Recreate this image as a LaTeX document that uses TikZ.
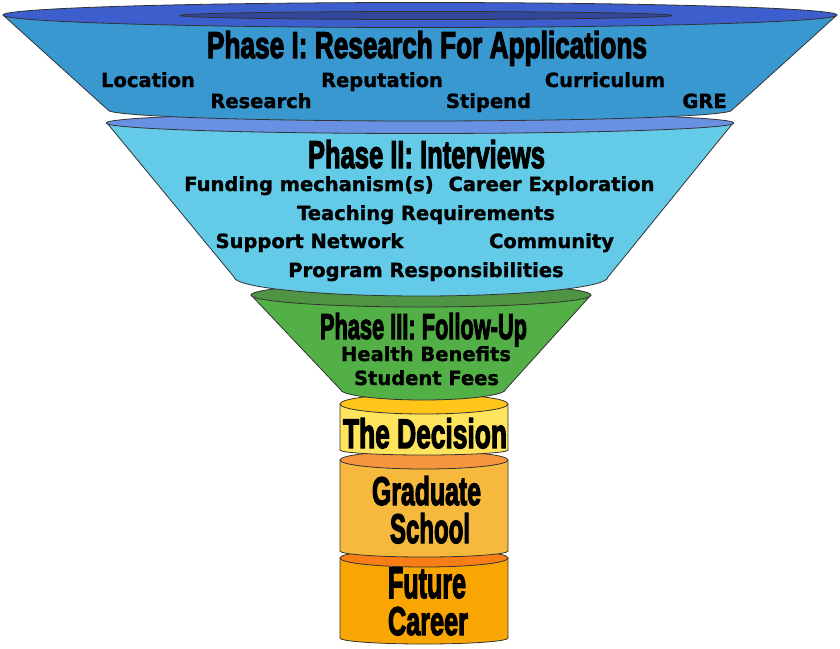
\documentclass[tikz,border=0pt]{standalone}
\usepackage{fontspec}
\usepackage{graphicx}
\newfontfamily\itemfont{DejaVu Sans}[BoldFeatures={FakeBold=1.2}]
\newfontfamily\titlefont{Liberation Sans}[BoldFeatures={FakeBold=3.5}]
\newcommand\tfit[3]{\resizebox{#1pt}{#2pt}{\titlefont\bfseries #3}}
\definecolor{topblue}{HTML}{3C5FCD}
\definecolor{innerblue}{HTML}{33479A}
\definecolor{bluecone}{HTML}{3A98D0}
\definecolor{ringtwo}{HTML}{6891E4}
\definecolor{cyancone}{HTML}{63CBE7}
\definecolor{greentop}{HTML}{4F9443}
\definecolor{greencone}{HTML}{52B046}
\definecolor{goldtop}{HTML}{FFC619}
\definecolor{yellowbody}{HTML}{FFE55E}
\definecolor{orangeone}{HTML}{F7953C}
\definecolor{gradbody}{HTML}{F6B93E}
\definecolor{orangetwo}{HTML}{F77E14}
\definecolor{futurebody}{HTML}{F9A602}
\tikzset{
  shape edge/.style={draw=black!80, line width=0.8pt, line join=round},
  item/.style={font=\itemfont\bfseries\fontsize{19.5}{20}\selectfont, inner sep=0pt, anchor=base},
  ttl/.style={inner sep=0pt, anchor=base}
}
\begin{document}
\begin{tikzpicture}[x=1pt,y=-1pt]
\useasboundingbox (0,0) rectangle (840,648);
% Future Career cylinder
\path[shape edge, fill=futurebody] (340,558) -- (340,638) arc[start angle=180,end angle=0,x radius=84,y radius=6] -- (508,558) -- cycle;
\path[shape edge, fill=orangetwo] (424,558) ellipse[x radius=84,y radius=9];
% Graduate School cylinder
\path[shape edge, fill=gradbody] (340,460) -- (340,551) arc[start angle=180,end angle=0,x radius=84,y radius=6] -- (508,460) -- cycle;
\path[shape edge, fill=orangeone] (424,460) ellipse[x radius=84,y radius=9];
% The Decision cylinder
\path[shape edge, fill=yellowbody] (340,404) -- (340,450) arc[start angle=180,end angle=0,x radius=84,y radius=5] -- (508,404) -- cycle;
\path[shape edge, fill=goldtop] (424,404) ellipse[x radius=84,y radius=10];
% Phase III funnel
\path[shape edge, fill=greencone] (251,295) -- (340,389) arc[start angle=180,end angle=0,x radius=83,y radius=11] -- (591,295) -- cycle;
\path[shape edge, fill=greentop] (421,295) ellipse[x radius=170,y radius=12];
% Phase II funnel
\path[shape edge, fill=cyancone] (107,123) -- (234,277) arc[start angle=180,end angle=0,x radius=187,y radius=19] -- (733,123) -- cycle;
\path[shape edge, fill=ringtwo] (420,123) ellipse[x radius=314,y radius=10.5];
% Phase I funnel
\path[shape edge, fill=bluecone] (3,15) -- (108,110) arc[start angle=180,end angle=0,x radius=312,y radius=11] -- (837,15) -- cycle;
\path[shape edge, fill=topblue] (420,15) ellipse[x radius=417,y radius=12.5];
\path[shape edge, fill=innerblue] (426,15.5) ellipse[x radius=246,y radius=4];
% Titles
\node[ttl] (t1) at (427,58) {\tfit{440}{27}{Phase I: Research For Applications}};
\node[ttl] (t2) at (426.5,168) {\tfit{237}{28}{Phase II: Interviews}};
\node[ttl] (t3) at (423.5,339) {\tfit{207}{26}{Phase III: Follow-Up}};
\node[ttl] (t4) at (425,448) {\tfit{164}{30}{The Decision}};
\node[ttl] (t5) at (426.5,505) {\tfit{109}{29}{Graduate}};
\node[ttl] (t6) at (430,543) {\tfit{80}{30}{School}};
\node[ttl] (t7) at (427,598) {\tfit{78}{30}{Future}};
\node[ttl] (t8) at (428,635) {\tfit{80}{28}{Career}};
% Phase I items
\node[item] (i1) at (148,87) {Location};
\node[item] (i2) at (261,108) {Research};
\node[item] (i3) at (382,87) {Reputation};
\node[item] (i4) at (488.5,108) {Stipend};
\node[item] (i5) at (605,87) {Curriculum};
\node[item] (i6) at (704.5,108) {GRE};
% Phase II items
\node[item] (j1) at (309,191) {Funding mechanism(s)};
\node[item] (j2) at (551.5,191) {Career Exploration};
\node[item] (j3) at (426,220) {Teaching Requirements};
\node[item] (j4) at (309.5,248) {Support Network};
\node[item] (j5) at (551.5,248) {Community};
\node[item] (j6) at (426,277) {Program Responsibilities};
% Phase III items
\node[item] (k1) at (426,361) {Health Benefits};
\node[item] (k2) at (426.5,385) {Student Fees};
\end{tikzpicture}
\end{document}
